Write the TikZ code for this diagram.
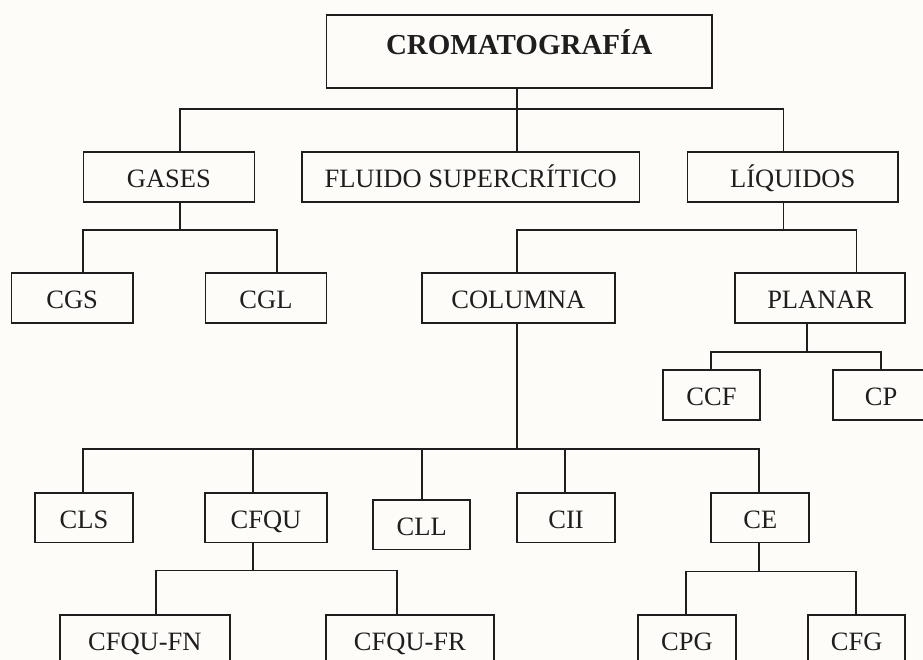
\documentclass[tikz,border=0pt]{standalone}
\usepackage{fontspec}
\setmainfont{Liberation Serif}
\definecolor{bg}{RGB}{253,252,249}
\definecolor{ink}{RGB}{30,30,30}
\begin{document}
\begin{tikzpicture}[x=1pt,y=-1pt,
  box/.style={draw=ink, line width=1.9pt, inner sep=0pt, anchor=north west,
    text=ink, text height=35.5pt, text depth=14pt, font=\fontsize{26.5}{30}\selectfont},
  titlebox/.style={box, text height=39.3pt, text depth=34pt, font=\fontsize{29}{32}\selectfont\bfseries},
  link/.style={draw=ink, line width=1.8pt}]
\useasboundingbox (0,0) rectangle (923,660);
\clip (0,0) rectangle (923,660);
\fill[bg] (0,0) rectangle (923,660);

% boxes
\node[titlebox, minimum width=385.5pt] (crom) at (325.5,14) {CROMATOGRAFÍA};
\node[box, minimum width=171pt]   (gases)   at (82.5,151.5)  {GASES};
\node[box, minimum width=337.5pt] (fluido)  at (301,151.5)   {FLUIDO SUPERCRÍTICO};
\node[box, minimum width=210.5pt] (liq)     at (686.5,151.5) {LÍQUIDOS};
\node[box, minimum width=121.5pt] (cgs)     at (10.5,272.5)  {CGS};
\node[box, minimum width=121pt]   (cgl)     at (204.5,272.5) {CGL};
\node[box, minimum width=193.5pt] (columna) at (420.7,272.5) {COLUMNA};
\node[box, minimum width=170pt]   (planar)  at (734.3,272.5) {PLANAR};
\node[box, minimum width=97pt]    (ccf)     at (662,369.3)   {CCF};
\node[box, minimum width=97pt]    (cp)      at (831.7,369.3) {CP};
\node[box, minimum width=97.5pt]  (cls)     at (34.3,492)    {CLS};
\node[box, minimum width=121.5pt] (cfqu)    at (204.3,492)   {CFQU};
\node[box, minimum width=97pt]    (cll)     at (372.3,499)   {CLL};
\node[box, minimum width=97.7pt]  (cii)     at (516.3,492)   {CII};
\node[box, minimum width=98pt]    (ce)      at (710.3,492)   {CE};
\node[box, minimum width=169.7pt] (cfqufn)  at (59,614)      {CFQU-FN};
\node[box, minimum width=167.4pt] (cfqufr)  at (325.3,614)   {CFQU-FR};
\node[box, minimum width=97.4pt]  (cpg)     at (637.3,614)   {CPG};
\node[box, minimum width=97pt]    (cfg)     at (807.3,614)   {CFG};

% junctions
\coordinate (h0) at (517.3,109);
\coordinate (h1) at (180,230);
\coordinate (h2) at (783.5,230);
\coordinate (h3) at (806.7,352.3);
\coordinate (h4) at (516.7,449.3);
\coordinate (h5) at (252.7,570.5);
\coordinate (h6) at (759.3,571.5);

% connectors
\draw[link] (crom.south -| h0) -- (h0);
\draw[link] (gases.north -| h1) |- (h0) -| (liq.north -| h2);
\draw[link] (h0) -- (fluido.north -| h0);

\draw[link] (gases.south -| h1) -- (h1);
\draw[link] (cgs.north -| 83,0) |- (h1) -| (cgl.north -| 276.7,0);

\draw[link] (liq.south -| h2) -- (h2);
\draw[link] (columna.north -| h4) |- (h2) -| (planar.north -| 856.5,0);

\draw[link] (planar.south -| h3) -- (h3);
\draw[link] (ccf.north -| 711,0) |- (h3) -| (cp.north);

\draw[link] (columna.south -| h4) -- (h4);
\draw[link] (cls.north -| 82.7,0) |- (h4) -| (ce.north -| h6);
\draw[link] (h4 -| h5) -- (cfqu.north -| h5);
\draw[link] (h4 -| cll.north) -- (cll.north);
\draw[link] (h4 -| 565,0) -- (cii.north -| 565,0);

\draw[link] (cfqu.south -| h5) -- (h5);
\draw[link] (cfqufn.north -| 156,0) |- (h5) -| (cfqufr.north -| 396.7,0);

\draw[link] (ce.south -| h6) -- (h6);
\draw[link] (cpg.north -| 686,0) |- (h6) -| (cfg.north -| 856,0);
\end{tikzpicture}
\end{document}
